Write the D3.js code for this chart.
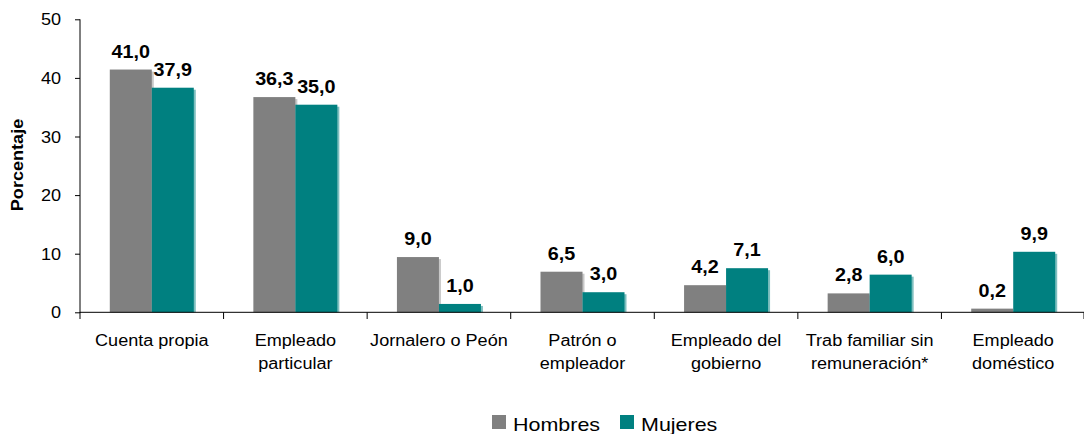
<!DOCTYPE html>
<html><head><meta charset="utf-8">
<script src="https://cdn.jsdelivr.net/npm/d3@7"></script>
<style>body{margin:0;background:#fff}svg{display:block}text{font-family:"Liberation Sans",Arial,sans-serif;fill:#000}</style>
</head><body><svg id="c" width="1084" height="434"></svg>
<script>
const categories = [["Cuenta propia"],["Empleado","particular"],["Jornalero o Peón"],["Patrón o","empleador"],["Empleado del","gobierno"],["Trab familiar sin","remuneración*"],["Empleado","doméstico"]];
const hombres = [41.0, 36.3, 9.0, 6.5, 4.2, 2.8, 0.2];
const mujeres = [37.9, 35.0, 1.0, 3.0, 7.1, 6.0, 9.9];
const seriesNames = ["Hombres","Mujeres"];
const colors = ["#808080","#008080"];
const yTicks = [0,10,20,30,40,50];

const SX = 1.13;
const svg = d3.select("#c");
const x0 = d3.scaleBand().domain(d3.range(categories.length)).range([80,1085]).paddingInner(0).paddingOuter(0);
const y = d3.scaleLinear().domain([0,50]).range([312.3,19.3]);
const inner = 42;
const lift = 2.5;
const fmt = v => v.toFixed(1).replace(".", ",");

function txt(g, x, yy, s, size, weight, anchor){
  return g.append("text").attr("transform",`translate(${x},${yy}) scale(${SX},1)`)
    .attr("font-size",size).attr("font-weight",weight||"normal").attr("text-anchor",anchor||"middle").text(s);
}

// bars
const data = [hombres, mujeres];
data.forEach((vals, si) => {
  vals.forEach((v, i) => {
    const cx = x0(i) + x0.bandwidth()/2;
    const bx = cx - inner + si*inner;
    const top = y(v) - lift;
    svg.append("rect").attr("x", bx+2).attr("y", top+2).attr("width", inner).attr("height", y(0)-top-2)
      .attr("fill", si===0 ? "#c8c8c8" : "#7fbfbf");
    svg.append("rect").attr("x", bx).attr("y", top).attr("width", inner).attr("height", y(0)-top)
      .attr("fill", colors[si]);
    txt(svg, bx + inner/2, y(v) - 14.5, fmt(v), 17.5, "bold");
  });
});

// axes
const yAxis = svg.append("g").attr("transform","translate(80,0)")
  .call(d3.axisLeft(y).tickValues(yTicks).tickSize(5).tickFormat(d=>d));
yAxis.select(".domain").attr("d","M0,19.3V313");
yAxis.selectAll("text").remove();
yTicks.forEach(t => txt(svg, 61, y(t)+6, String(t), 16, "normal", "end"));

svg.append("line").attr("x1",80).attr("x2",1084).attr("y1",312.3).attr("y2",312.3).attr("stroke","#000");
const bounds = d3.range(categories.length+1).map(i => i < categories.length ? x0(i) : 1084);
svg.selectAll(".ct").data(bounds).enter().append("line")
  .attr("x1",d=>d).attr("x2",d=>d).attr("y1",312.3).attr("y2",319).attr("stroke","#000");
yAxis.selectAll("line").attr("stroke","#000");
yAxis.select(".domain").attr("stroke","#000");

categories.forEach((lines, i) => {
  const cx = x0(i) + x0.bandwidth()/2;
  lines.forEach((l, k) => txt(svg, cx, 346 + k*23, l, 16));
});

// y title
svg.append("text").attr("transform","translate(23,165) rotate(-90) scale(1.13,1)")
  .attr("text-anchor","middle").attr("font-size",16).attr("font-weight","bold").text("Porcentaje");

// legend
const legX = [492, 620];
seriesNames.forEach((n, i) => {
  svg.append("rect").attr("x", legX[i]).attr("y", 415).attr("width", 14).attr("height", 14).attr("fill", colors[i]);
  txt(svg, legX[i] + 21, 431, n, 19, "normal", "start");
});
</script></body></html>
